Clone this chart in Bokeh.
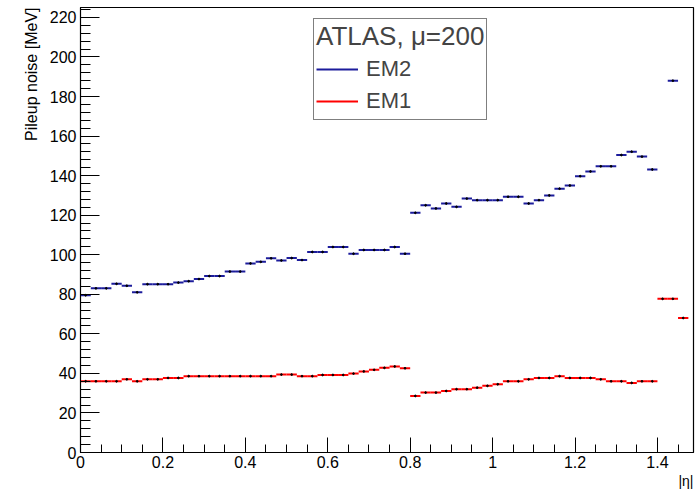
from bokeh.plotting import figure
from bokeh.models import Range1d, FixedTicker, Legend, LegendItem, Title, ColumnDataSource
from bokeh.embed import file_html
from bokeh.resources import INLINE

# ---- data -------------------------------------------------------------
bin_width = 0.025
n_bins = 59
eta_low = [round(i * bin_width, 4) for i in range(n_bins)]

# EM2 pileup noise [MeV] per |eta| bin (None = empty bin)
em2 = [79.5, 83.0, 83.0, 85.3, 84.3, 81.0, 85.1, 85.1, 85.1, 85.9,
       86.6, 87.7, 89.2, 89.2, 91.5, 91.5, 95.6, 96.4, 98.2, 97.1,
       98.3, 97.3, 101.4, 101.4, 103.9, 103.9, 100.5, 102.4, 102.4, 102.4,
       103.9, 100.5, 121.2, 125.0, 123.4, 125.9, 124.2, 128.4, 127.6, 127.6,
       127.6, 129.3, 129.3, 125.9, 127.6, 130.0, 133.4, 135.0, 139.7, 142.1,
       144.7, 144.7, 150.4, 152.1, 149.6, 143.1, None, 188.0, None]

# EM1 pileup noise [MeV] per |eta| bin
em1 = [36.0, 36.0, 36.0, 36.0, 37.0, 36.0, 37.0, 37.0, 37.7, 37.7,
       38.6, 38.6, 38.6, 38.6, 38.6, 38.6, 38.6, 38.6, 38.6, 39.4,
       39.4, 38.6, 38.6, 39.2, 39.2, 39.2, 39.9, 41.0, 41.8, 42.8,
       43.5, 42.6, 28.6, 30.3, 30.3, 31.1, 32.0, 32.0, 32.8, 33.7,
       34.5, 36.0, 36.0, 37.0, 37.7, 37.7, 38.6, 37.7, 37.7, 37.7,
       37.0, 36.0, 36.0, 35.2, 36.0, 36.0, 77.7, 77.7, 68.0]

x_ticks = [0, 0.2, 0.4, 0.6, 0.8, 1.0, 1.2, 1.4]
x_tick_labels = ["0", "0.2", "0.4", "0.6", "0.8", "1", "1.2", "1.4"]
x_minor = [round(i * 0.05, 2) for i in range(30)]
y_ticks = [0, 20, 40, 60, 80, 100, 120, 140, 160, 180, 200, 220]
y_minor = list(range(0, 225, 4))

title_text = "ATLAS, \u03bc=200"
series_names = ["EM2", "EM1"]
colors = ["#1c1c9c", "#ff0000"]
x_title = "|\u03b7|"
y_title = "Pileup noise [MeV]"

FONT = "Liberation Sans"


def make_source(vals):
    x0, x1, xc, y = [], [], [], []
    for lo, v in zip(eta_low, vals):
        if v is None:
            continue
        x0.append(lo)
        x1.append(lo + bin_width)
        xc.append(lo + bin_width / 2)
        y.append(v)
    return ColumnDataSource(dict(x0=x0, x1=x1, xc=xc, y=y))


p = figure(width=697, height=490,
           x_range=Range1d(0, 1.4875), y_range=Range1d(0, 225),
           output_backend="svg", toolbar_location=None,
           min_border_left=80, min_border_right=4,
           min_border_top=7, min_border_bottom=38)

p.xgrid.visible = False
p.ygrid.visible = False
p.outline_line_color = "black"
p.outline_line_width = 1.2
p.background_fill_color = "white"
p.border_fill_color = "white"

renderers = []
for vals, col in zip([em2, em1], colors):
    src = make_source(vals)
    r = p.segment(x0="x0", x1="x1", y0="y", y1="y", source=src,
                  line_color=col, line_width=2)
    p.scatter(x="xc", y="y", source=src, size=1.8, color="black")
    renderers.append(r)

# axes
for ax in (p.xaxis[0], p.yaxis[0]):
    ax.axis_line_color = "black"
    ax.major_tick_line_color = "black"
    ax.minor_tick_line_color = "black"
    ax.major_tick_out = 0
    ax.minor_tick_out = 0
    ax.major_label_text_font = FONT
    ax.major_label_text_font_size = "16px"
    ax.major_label_text_color = "black"

p.xaxis.ticker = FixedTicker(ticks=x_ticks, minor_ticks=x_minor)
p.xaxis.major_label_overrides = {v: t for v, t in zip(x_ticks, x_tick_labels)}
p.xaxis.major_tick_in = 15
p.xaxis.minor_tick_in = 8
p.xaxis.major_label_standoff = 3

p.yaxis.ticker = FixedTicker(ticks=y_ticks, minor_ticks=y_minor)
p.yaxis.major_tick_in = 19
p.yaxis.minor_tick_in = 10
p.yaxis.major_label_standoff = 4

# axis titles (ROOT style: at the ends of the axes)
p.add_layout(Title(text=y_title, align="right", text_font=FONT,
                   text_font_size="16px", text_font_style="normal",
                   text_color="black", standoff=13), "left")
p.add_layout(Title(text=x_title, align="right", text_font=FONT,
                   text_font_size="14px", text_font_style="normal",
                   text_color="black", standoff=0), "below")

legend = Legend(items=[LegendItem(label=n, renderers=[r]) for n, r in zip(series_names, renderers)],
                title=title_text, location=(233, 332))
legend.title_text_font = FONT
legend.title_text_font_size = "26px"
legend.title_text_font_style = "normal"
legend.title_standoff = 1
legend.label_text_font = FONT
legend.label_text_font_size = "22px"
legend.label_height = 32
legend.glyph_height = 32
legend.glyph_width = 42
legend.label_standoff = 8
legend.spacing = 0
legend.padding = 2
legend.margin = 0
legend.border_line_color = "black"
legend.border_line_width = 1.5
legend.background_fill_color = "white"
legend.background_fill_alpha = 1.0
p.add_layout(legend)

open("out.html", "w").write(file_html(p, INLINE))
